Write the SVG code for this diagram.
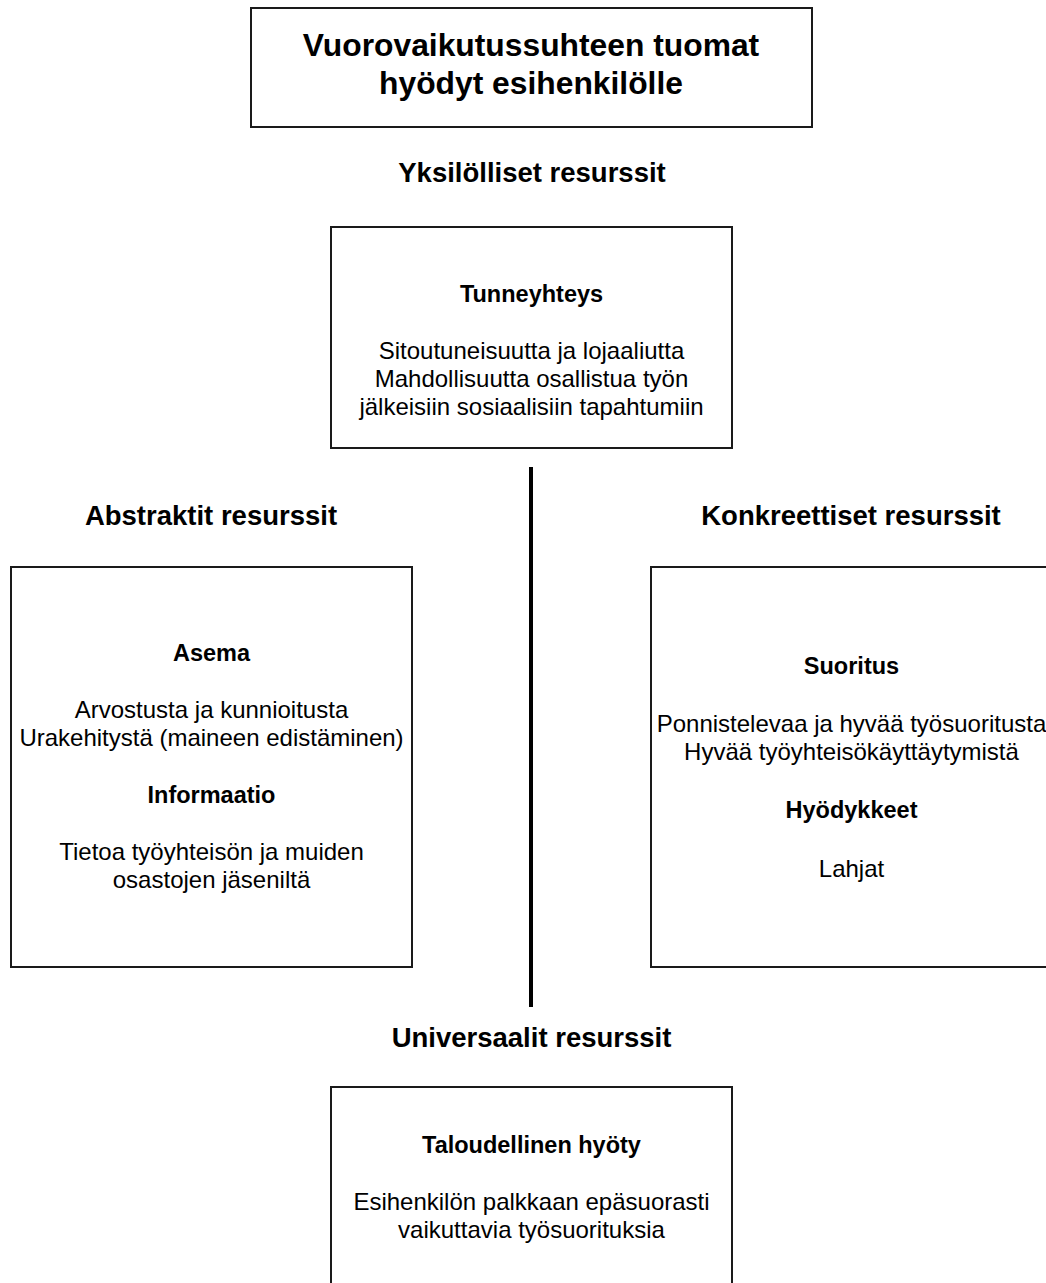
<svg xmlns="http://www.w3.org/2000/svg" width="1046" height="1283" viewBox="0 0 1046 1283">
<style>
.box{fill:#fff;stroke:#1a1a1a;stroke-width:2}
text{font-family:"Liberation Sans",Arial,sans-serif;fill:#000;text-anchor:middle}
.title{font-size:31.8px;font-weight:bold}
.sec{font-size:27.5px;font-weight:bold}
.h{font-size:23.5px;font-weight:bold}
.b{font-size:24px}
.conn{stroke:#000;stroke-width:4;fill:none}
</style>
<rect width="1046" height="1283" fill="#fff"/>
<g id="connectors">
<line class="conn" x1="531" y1="467" x2="531" y2="1007"/>
</g>
<g id="title">
<rect class="box" x="251" y="8" width="561" height="119"/>
<text class="title" x="531" y="56">Vuorovaikutussuhteen tuomat</text>
<text class="title" x="531" y="94">hyödyt esihenkilölle</text>
</g>
<g id="label-yksilolliset">
<text class="sec" x="532" y="182">Yksilölliset resurssit</text>
</g>
<g id="node-tunneyhteys">
<rect class="box" x="331" y="227" width="401" height="221"/>
<text class="h" x="531.5" y="302">Tunneyhteys</text>
<text class="b" x="531.5" y="359">Sitoutuneisuutta ja lojaaliutta</text>
<text class="b" x="531.5" y="387">Mahdollisuutta osallistua työn</text>
<text class="b" x="531.5" y="415">jälkeisiin sosiaalisiin tapahtumiin</text>
</g>
<g id="label-abstraktit">
<text class="sec" x="211" y="525">Abstraktit resurssit</text>
</g>
<g id="node-abstraktit">
<rect class="box" x="11" y="567" width="401" height="400"/>
<text class="h" x="211.5" y="661">Asema</text>
<text class="b" x="211.5" y="718">Arvostusta ja kunnioitusta</text>
<text class="b" x="211.5" y="746">Urakehitystä (maineen edistäminen)</text>
<text class="h" x="211.5" y="803">Informaatio</text>
<text class="b" x="211.5" y="860">Tietoa työyhteisön ja muiden</text>
<text class="b" x="211.5" y="888">osastojen jäseniltä</text>
</g>
<g id="label-konkreettiset">
<text class="sec" x="851" y="525">Konkreettiset resurssit</text>
</g>
<g id="node-konkreettiset">
<rect class="box" x="651" y="567" width="401" height="400"/>
<text class="h" x="851.5" y="674">Suoritus</text>
<text class="b" x="851.5" y="732">Ponnistelevaa ja hyvää työsuoritusta</text>
<text class="b" x="851.5" y="760">Hyvää työyhteisökäyttäytymistä</text>
<text class="h" x="851.5" y="818">Hyödykkeet</text>
<text class="b" x="851.5" y="877">Lahjat</text>
</g>
<g id="label-universaalit">
<text class="sec" x="531.5" y="1047">Universaalit resurssit</text>
</g>
<g id="node-universaalit">
<rect class="box" x="331" y="1087" width="401" height="221"/>
<text class="h" x="531.5" y="1153">Taloudellinen hyöty</text>
<text class="b" x="531.5" y="1210">Esihenkilön palkkaan epäsuorasti</text>
<text class="b" x="531.5" y="1238">vaikuttavia työsuorituksia</text>
</g>
</svg>
